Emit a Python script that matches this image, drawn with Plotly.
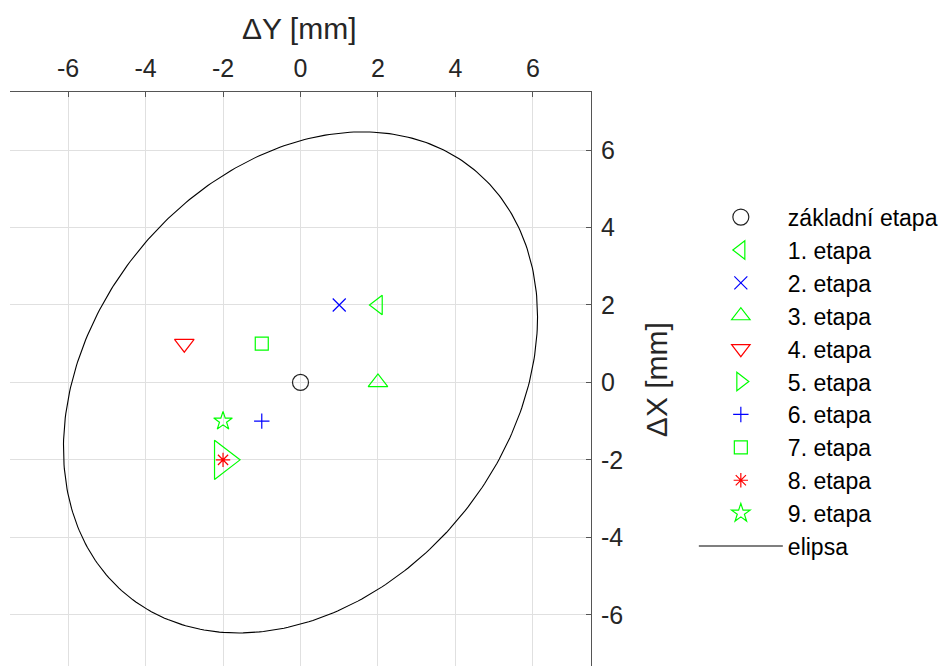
import numpy as np
import plotly.graph_objects as go

# ---- data ----
stage_names = ["základní etapa", "1. etapa", "2. etapa", "3. etapa", "4. etapa",
               "5. etapa", "6. etapa", "7. etapa", "8. etapa", "9. etapa"]
dY = [0, 2, 1, 2, -3, -2, -1, -1, -2, -2]      # horizontal axis  ΔY [mm]
dX = [0, 2, 2, 0, 1, -2, -1, 1, -2, -1]        # vertical axis    ΔX [mm]
symbols = ["circle-open", "triangle-left-open", "x-thin-open", "triangle-up-open",
           "triangle-down-open", "triangle-right-open", "cross-thin-open",
           "square-open", "asterisk-open", "star-open"]
colors = ["#222222", "#00ff00", "#0000ff", "#00ff00", "#ff0000",
          "#00ff00", "#0000ff", "#00ff00", "#ff0000", "#00ff00"]
sizes = [16, 17, 13, 17, 17, 34, 11, 13, 12, 14]

# ellipse geometry (extent along each axis and phase between them)
ell_dY_max = 6.12
ell_dX_max = 6.47
ell_phase_deg = 74.8

tick_vals = [-6, -4, -2, 0, 2, 4, 6]
tick_text = ["-6", "-4", "-2", "0", "2", "4", "6"]

t = np.linspace(0, 2 * np.pi, 361)
ell_x = ell_dY_max * np.cos(t)
ell_y = ell_dX_max * np.cos(t - np.deg2rad(ell_phase_deg))

FONT = "Liberation Sans, Arial, sans-serif"

fig = go.Figure()
for name, x, y, s, c, sz in zip(stage_names, dY, dX, symbols, colors, sizes):
    fig.add_trace(go.Scatter(
        x=[x], y=[y], mode="markers", name=name,
        marker=dict(symbol=s, size=sz, color=c, line=dict(color=c, width=1.2)),
    ))
fig.add_trace(go.Scatter(x=ell_x, y=ell_y, mode="lines", name="elipsa",
                         line=dict(color="#000000", width=1.1)))

axis_common = dict(
    tickvals=tick_vals, ticktext=tick_text, showgrid=True, gridcolor="#e0e0e0",
    gridwidth=1, zeroline=False, showline=True, linecolor="#555555", linewidth=1,
    ticks="inside", ticklen=5, tickcolor="#555555", ticklabelstandoff=4,
    tickfont=dict(family=FONT, size=25, color="#262626"),
    automargin=False, mirror=False,
)
fig.update_xaxes(range=[-7.5, 7.5], side="top", **axis_common)
fig.update_yaxes(range=[-7.53, 7.5], side="right", **axis_common)

fig.add_annotation(text="ΔY [mm]", xref="paper", yref="paper", x=0.499, y=1.109,
                   xanchor="center", yanchor="middle", showarrow=False,
                   font=dict(family=FONT, size=30, color="#262626"))
fig.add_annotation(text="ΔX [mm]", xref="paper", yref="paper", x=1.112, y=0.505,
                   xanchor="center", yanchor="middle", textangle=-90, showarrow=False,
                   font=dict(family=FONT, size=30, color="#262626"))

fig.update_layout(
    width=951, height=666,
    margin=dict(l=2, r=368, t=84, b=0),
    plot_bgcolor="white", paper_bgcolor="white",
    showlegend=True,
    legend=dict(x=1.177, y=0.822, xanchor="left", yanchor="top",
                font=dict(family=FONT, size=23, color="#000000"),
                bgcolor="rgba(0,0,0,0)", itemwidth=84, tracegroupgap=0),
)

fig.write_html("out.html")
